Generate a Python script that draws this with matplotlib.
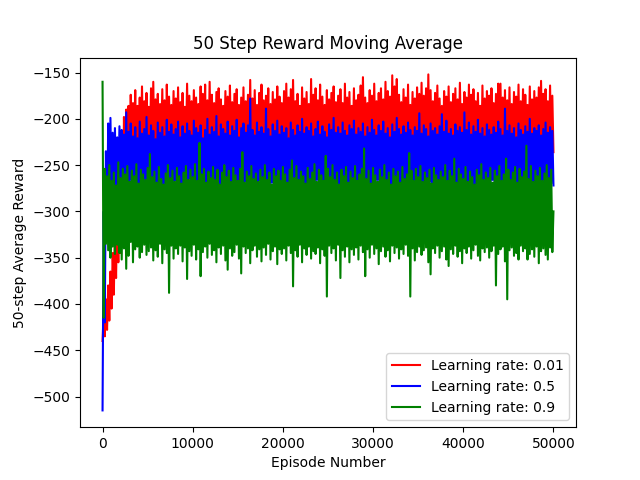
"""50 step moving average of the reward for three learning rates"""
import matplotlib
matplotlib.use("Agg")
import matplotlib.pyplot as plt
import numpy as np

# moving average, one value every 125 episodes
step = 125
learning_rates = [0.01, 0.5, 0.9]
colors = ["r", "b", "g"]

reward_lr_001 = [
    -440,
    -410, -435, -395, -428, -380, -418, -365, -405, -345, -390, -320, -372,
    -290, -355, -250, -345, -215, -320, -198, -290, -190, -265, -186, -250,
    -174, -238, -183, -230, -169, -244, -186, -227, -177, -236, -165, -241, -181, -232, -172, -247, -187, -229, -167, -235,
    -160, -240, -179, -226, -173, -243, -184, -231, -168, -238, -180, -245, -163, -228, -176, -236, -185, -233, -170, -242,
    -178, -229, -166, -239, -182, -234, -172, -246, -187, -227, -162, -237, -175, -243, -181, -230, -169, -235, -177, -244,
    -184, -228, -165, -240, -173, -232, -163, -245, -180, -236, -160, -229, -174, -241, -183, -233, -171, -238, -167, -226,
    -179, -247, -186, -231, -170, -237, -176, -242, -164, -228, -182, -235, -173, -244, -168, -230, -185, -239, -177, -233,
    -166, -241, -181, -227, -174, -236, -158, -245, -178, -229, -169, -238, -185, -232, -172, -243, -163, -230, -180, -237,
    -175, -226, -167, -244, -184, -235, -171, -240, -179, -231, -165, -246, -176, -228, -183, -237, -170, -233, -162, -242,
    -177, -230, -168, -239, -158, -234, -181, -245, -173, -227, -186, -241, -166, -232, -178, -238, -171, -229, -184, -243,
    -157, -236, -174, -231, -167, -247, -180, -228, -163, -240, -176, -234, -185, -226, -169, -242, -179, -237, -172, -230,
    -165, -244, -182, -233, -175, -239, -168, -227, -183, -245, -162, -235, -177, -231, -171, -241, -186, -228, -167, -238,
    -180, -232, -174, -246, -164, -229, -155, -240, -177, -234, -183, -227, -169, -243, -175, -236, -162, -231, -181, -239,
    -172, -226, -167, -244, -179, -233, -160, -240, -170, -229, -176, -237, -153, -232, -165, -245, -157, -228, -174, -241,
    -182, -235, -168, -230, -177, -243, -163, -238, -185, -227, -171, -234, -178, -246, -166, -231, -173, -239, -161, -233,
    -175, -228, -167, -242, -152, -236, -169, -231, -181, -245, -172, -229, -164, -238, -178, -233, -186, -241, -170, -227,
    -176, -237, -165, -232, -182, -244, -173, -229, -167, -240, -179, -235, -161, -226, -184, -243, -171, -231, -177, -238,
    -163, -234, -174, -246, -168, -230, -181, -237, -172, -228, -186, -242, -164, -233, -178, -239, -170, -227, -175, -245,
    -167, -232, -183, -238, -173, -229, -162, -244, -162, -235, -177, -230, -169, -241, -180, -227, -166, -236, -184, -233,
    -171, -243, -176, -228, -163, -239, -181, -234, -168, -246, -174, -231, -185, -237, -165, -229, -179, -242, -170, -235,
    -177, -230, -166, -238, -159, -233, -173, -244, -168, -228, -181, -239, -164, -234, -175, -236,
]

reward_lr_05 = [
    -515,
    -300, -420, -235, -330, -205, -300, -199, -285,
    -215, -278, -210, -290, -220, -272, -208, -283, -212, -268, -217, -288, -193, -275, -214, -281, -205, -266, -219, -292,
    -209, -274, -221, -279, -203, -270, -216, -286, -211, -277, -198, -265, -218, -284, -207, -273, -213, -289, -222, -269,
    -204, -280, -215, -276, -209, -282, -219, -271, -201, -285, -214, -274, -206, -288, -217, -267, -211, -279, -203, -273,
    -220, -283, -208, -270, -216, -286, -205, -277, -213, -265, -218, -281, -202, -275, -210, -289, -215, -268, -207, -280,
    -221, -272, -212, -285, -200, -276, -217, -269, -209, -284, -214, -279, -197, -273, -219, -287, -206, -270, -211, -294,
    -216, -278, -203, -266, -218, -282, -208, -274, -213, -288, -201, -271, -220, -279, -210, -285, -205, -268, -215, -281,
    -207, -275, -178, -283, -212, -270, -218, -286, -204, -277, -214, -267, -209, -280, -216, -273, -189, -290, -211, -276,
    -219, -269, -206, -284, -213, -278, -202, -271, -217, -287, -208, -274, -215, -265, -210, -282, -221, -277, -204, -286,
    -212, -272, -218, -280, -207, -268, -214, -285, -200, -276, -216, -270, -209, -289, -213, -279, -205, -273, -219, -283,
    -211, -266, -203, -281, -217, -275, -208, -288, -214, -271, -220, -278, -206, -284, -212, -269, -199, -280, -215, -274,
    -209, -287, -216, -272, -204, -279, -213, -267, -218, -283, -207, -276, -211, -290, -202, -270, -217, -281, -210, -275,
    -214, -268, -205, -285, -219, -273, -209, -280, -215, -271, -201, -286, -212, -277, -218, -266, -207, -282, -213, -274,
    -203, -288, -216, -270, -210, -279, -220, -275, -206, -283, -214, -269, -199, -281, -211, -273, -217, -286, -208, -272,
    -215, -278, -204, -267, -212, -284, -218, -276, -209, -270, -213, -287, -194, -275, -216, -280, -207, -271, -211, -283,
    -219, -268, -205, -279, -213, -274, -210, -288, -217, -272, -208, -281, -195, -277, -214, -266, -202, -284, -216, -273,
    -211, -280, -218, -270, -206, -285, -213, -276, -209, -269, -215, -282, -193, -278, -212, -287, -204, -271, -217, -279,
    -208, -274, -214, -289, -201, -268, -216, -281, -210, -275, -219, -270, -206, -284, -212, -277, -217, -266, -209, -283,
    -215, -272, -203, -286, -211, -279, -218, -269, -189, -280, -213, -276, -207, -288, -216, -271, -210, -282, -220, -274,
    -205, -285, -212, -270, -217, -278, -208, -287, -214, -273, -200, -281, -216, -268, -210, -284, -213, -276, -207, -289,
    -218, -271, -211, -280, -204, -275, -215, -286, -209, -270, -213, -272,
]

reward_lr_09 = [
    -160, -415,
    -254, -335, -262, -342, -250, -350, -267, -338, -258, -346, -272, -336, -247, -345, -264, -352, -254, -340, -260, -362,
    -251, -348, -268, -333, -256, -355, -262, -341, -249, -338, -270, -350, -255, -344, -260, -336, -266, -347, -253, -343,
    -238, -339, -263, -353, -257, -342, -269, -349, -252, -335, -265, -356, -271, -341, -259, -345, -250, -388, -264, -337,
    -256, -351, -268, -340, -253, -346, -262, -337, -270, -354, -258, -339, -251, -373, -266, -343, -255, -348, -263, -336,
    -249, -352, -267, -341, -226, -370, -260, -344, -254, -338, -269, -350, -257, -335, -264, -347, -252, -342, -266, -355,
    -255, -339, -271, -346, -258, -337, -250, -353, -263, -363, -256, -340, -268, -348, -253, -344, -261, -336, -267, -351,
    -254, -367, -236, -338, -269, -345, -257, -340, -262, -356, -251, -342, -265, -337, -259, -349, -268, -341, -255, -354,
    -263, -339, -250, -347, -266, -335, -258, -352, -271, -343, -254, -338, -262, -357, -256, -341, -267, -346, -252, -340,
    -260, -353, -269, -337, -255, -345, -245, -381, -264, -342, -251, -349, -266, -336, -257, -355, -262, -340, -270, -347,
    -253, -338, -265, -351, -258, -343, -249, -346, -268, -339, -255, -356, -261, -341, -267, -348, -240, -392, -254, -337,
    -263, -345, -250, -340, -266, -353, -258, -336, -271, -372, -255, -342, -262, -349, -252, -338, -269, -355, -257, -341,
    -264, -347, -251, -339, -267, -352, -260, -337, -254, -344, -232, -370, -265, -341, -256, -350, -270, -336, -253, -346,
    -261, -340, -268, -357, -255, -343, -263, -338, -250, -349, -266, -342, -258, -354, -271, -337, -254, -345, -262, -339,
    -257, -351, -269, -341, -252, -346, -265, -336, -260, -348, -237, -392, -256, -340, -267, -353, -254, -344, -263, -338,
    -251, -347, -268, -342, -258, -339, -264, -355, -255, -368, -270, -340, -253, -345, -261, -337, -266, -350, -257, -343,
    -263, -338, -250, -352, -267, -359, -256, -341, -262, -346, -243, -337, -269, -349, -254, -343, -260, -356, -265, -340,
    -252, -345, -268, -338, -257, -351, -263, -342, -271, -336, -255, -348, -261, -353, -249, -340, -266, -344, -258, -339,
    -264, -350, -253, -343, -269, -337, -256, -380, -262, -346, -251, -341, -267, -338, -260, -354, -243, -395, -255, -342,
    -266, -339, -258, -348, -252, -345, -269, -352, -254, -337, -263, -343, -257, -340, -229, -352, -265, -346, -251, -341,
    -268, -349, -256, -338, -262, -356, -253, -343, -267, -340, -259, -347, -250, -352, -264, -339, -255, -344, -300,
]

series = [reward_lr_001, reward_lr_05, reward_lr_09]

fig, ax = plt.subplots(figsize=(6.4, 4.8), dpi=100)
for lr, c, rewards in zip(learning_rates, colors, series):
    episodes = np.arange(len(rewards)) * step
    ax.plot(episodes, rewards, color=c, label=f"Learning rate: {lr}")

ax.set_title("50 Step Reward Moving Average")
ax.set_xlabel("Episode Number")
ax.set_ylabel("50-step Average Reward")
ax.legend(loc="lower right")

fig.savefig("out.png", dpi=100)
